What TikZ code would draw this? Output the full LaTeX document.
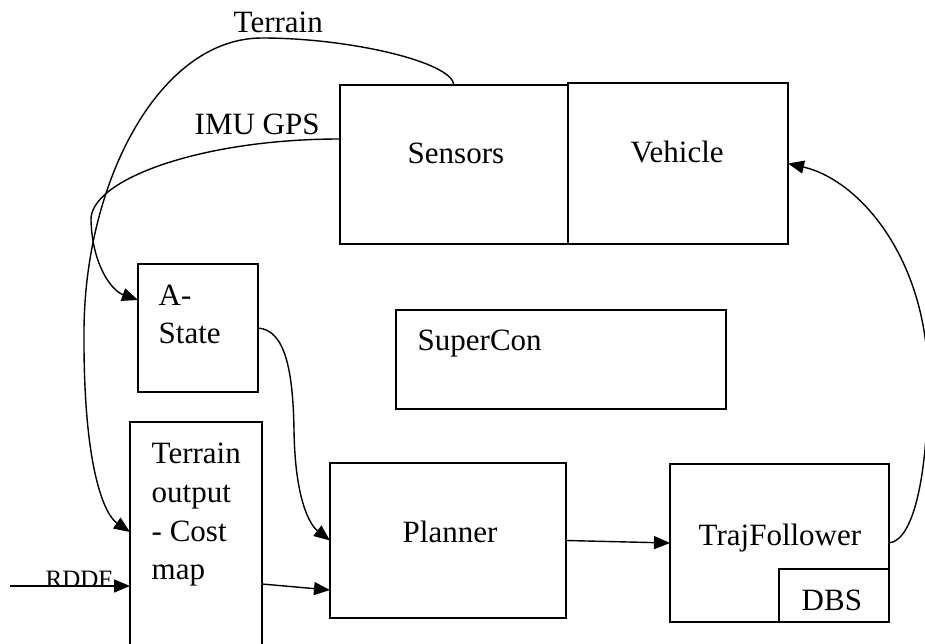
\documentclass[tikz,border=0pt]{standalone}
\usepackage{fontspec}
\setmainfont{Liberation Serif}
\usetikzlibrary{arrows.meta,calc}
\begin{document}
\begin{tikzpicture}[x=1pt,y=-1pt,line width=1.4pt,
  box/.style={draw,rectangle,inner sep=0pt,outer sep=0pt},
  txt/.style={anchor=base west,inner sep=0pt,font=\fontsize{31}{37}\selectfont},
  small/.style={anchor=base west,inner sep=0pt,font=\fontsize{25}{30}\selectfont},
  arr/.style={-{Triangle[length=16pt,width=13pt]}}]
\useasboundingbox (0,0) rectangle (925,644);
\clip (0,0) rectangle (925,644);
% boxes
\node[box,minimum width=228pt,minimum height=159pt] (sens) at (454,164.5) {};
\node[box,minimum width=220pt,minimum height=161pt] (veh) at (678,163.5) {};
\node[box,minimum width=120pt,minimum height=128pt] (ast) at (198,328) {};
\node[box,minimum width=330pt,minimum height=99pt] (sup) at (561,359.5) {};
\node[box,minimum width=132pt,minimum height=238pt] (tout) at (196,541) {};
\node[box,minimum width=236pt,minimum height=155pt] (plan) at (448,540.5) {};
\node[box,minimum width=219pt,minimum height=158pt] (traj) at (779.5,543) {};
\node[box,minimum width=110pt,minimum height=53pt] (dbs) at (834,595.5) {};
% texts
\node[txt] (tsens) at (407,164) {Sensors};
\node[txt] (tveh) at (630,163) {Vehicle};
\node[txt] (tast1) at (158,305) {A-};
\node[txt] (tast2) at (158,343) {State};
\node[txt] (tsup) at (417,350) {SuperCon};
\node[txt] (tout1) at (151,463) {Terrain};
\node[txt] (tout2) at (151,502) {output};
\node[txt] (tout3) at (151,541) {- Cost};
\node[txt] (tout4) at (151,579) {map};
\node[txt] (tplan) at (402,542) {Planner};
\node[txt] (ttraj) at (698,545) {TrajFollower};
\node[txt] (tdbs) at (801,610) {DBS};
\node[txt] (lterr) at (233,33) {Terrain};
\node[txt] (limu) at (194,135) {IMU GPS};
\node[small] (lrddf) at (45,587) {RDDF};
% connectors
\draw[arr] ($(sens.north west)+(114,0)$) .. controls (452,62) and (350,38) .. (262,38)
  .. controls (160,38) and (85,180) .. (84,330)
  .. controls (83,470) and (105,515) .. ($(tout.north west)+(0,110)$);
\draw[arr] ($(sens.north west)+(0,54)$) .. controls (200,139) and (90,180) .. (91,220)
  .. controls (92,262) and (110,290) .. ($(ast.north west)+(0,36)$);
\draw[arr] (ast.east) .. controls (285,330) and (293,370) .. (294,430)
  .. controls (295,500) and (310,525) .. (plan.west);
\draw[arr] ($(tout.north east)+(0,162)$) -- ($(plan.north west)+(0,127)$);
\draw[arr] (plan.east) -- (traj.west);
\draw[arr] (traj.east) .. controls (915,540) and (928,470) .. (928,380)
  .. controls (928,260) and (860,180) .. (veh.east);
\coordinate (rddfstart) at (10,586);
\draw[arr] (rddfstart) -- ($(tout.north west)+(0,164)$);
\end{tikzpicture}
\end{document}
